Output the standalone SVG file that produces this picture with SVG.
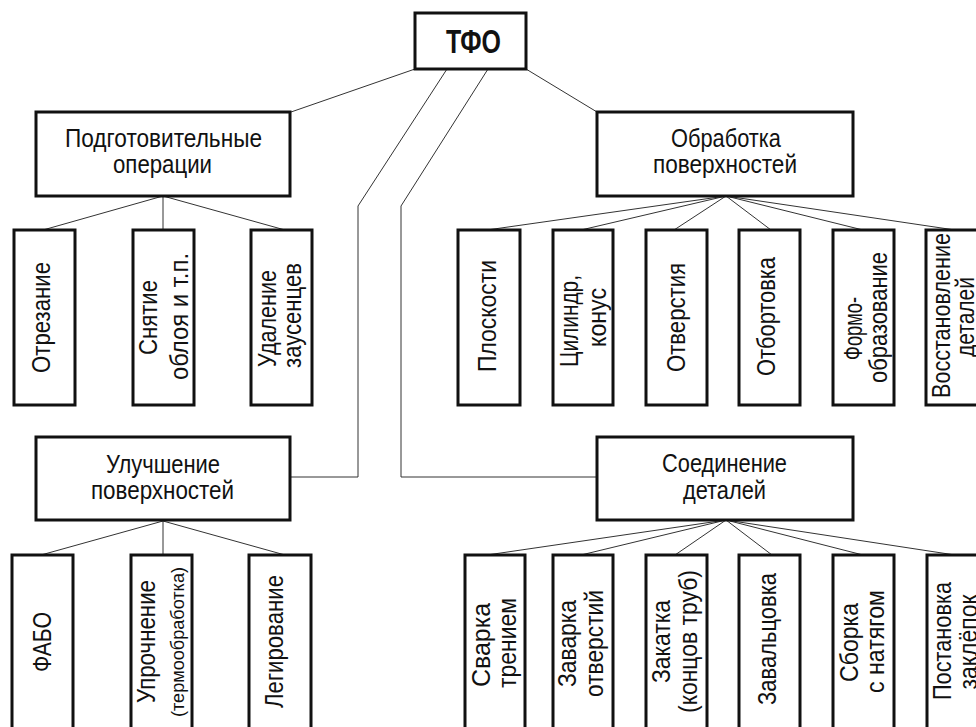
<svg xmlns="http://www.w3.org/2000/svg" width="976" height="727" viewBox="0 0 976 727">
<style>
.box{fill:#fff;stroke:#111;stroke-width:3}
.t{font-family:"Liberation Sans Narrow","Liberation Sans",Arial,sans-serif;font-size:26px;fill:#111;text-anchor:middle}
.s{font-size:18px}
.b{font-weight:bold;font-size:33px}
.c{fill:none;stroke:#333;stroke-width:1}
</style>
<rect width="976" height="727" fill="#fff"/>
<g id="connectors" class="c">
<path d="M415,69 L291,112"/>
<path d="M526,69 L597,112"/>
<path d="M447,69 L358,206 L358,477 L290,477"/>
<path d="M488,69 L401,206 L401,477 L597,477"/>
<path d="M163,196 L43,230 M163,196 L163,230 M163,196 L285,230"/>
<path d="M163,521 L41,555 M163,521 L163,555 M163,521 L285,555"/>
<path d="M726,196 L487,230 M726,196 L581,230 M726,196 L674,230 M726,196 L771,230 M726,196 L863,230 M726,196 L955,230"/>
<path d="M726,520 L487,555 M726,520 L581,555 M726,520 L675,555 M726,520 L772,555 M726,520 L863,555 M726,520 L955,555"/>
</g>
<g id="tfo"><rect class="box" x="415" y="13" width="111" height="56"/><text class="t b" x="473.5" y="53" textLength="55" lengthAdjust="spacingAndGlyphs">ТФО</text></g>
<g id="podg"><rect class="box" x="36" y="112" width="254" height="84"/><text class="t" x="163.5" y="147" textLength="197" lengthAdjust="spacingAndGlyphs">Подготовительные</text><text class="t" x="162.5" y="173" textLength="99" lengthAdjust="spacingAndGlyphs">операции</text></g>
<g id="obrab"><rect class="box" x="597" y="112" width="256" height="84"/><text class="t" x="726" y="147" textLength="110" lengthAdjust="spacingAndGlyphs">Обработка</text><text class="t" x="725" y="173" textLength="144" lengthAdjust="spacingAndGlyphs">поверхностей</text></g>
<g id="uluch"><rect class="box" x="36" y="437" width="254" height="83"/><text class="t" x="163" y="473" textLength="114" lengthAdjust="spacingAndGlyphs">Улучшение</text><text class="t" x="162.5" y="499" textLength="143" lengthAdjust="spacingAndGlyphs">поверхностей</text></g>
<g id="soed"><rect class="box" x="597" y="437" width="256" height="83"/><text class="t" x="724.5" y="472" textLength="125" lengthAdjust="spacingAndGlyphs">Соединение</text><text class="t" x="724.5" y="499" textLength="83" lengthAdjust="spacingAndGlyphs">деталей</text></g>

<g id="otrez"><rect class="box" x="14" y="230" width="61" height="175"/><text class="t" transform="translate(50,317.5) rotate(-90)" textLength="111" lengthAdjust="spacingAndGlyphs">Отрезание</text></g>
<g id="snyatie"><rect class="box" x="133" y="230" width="61" height="175"/><text class="t" transform="translate(156.5,317.5) rotate(-90)" textLength="75" lengthAdjust="spacingAndGlyphs">Снятие</text><text class="t" transform="translate(188,316.5) rotate(-90)" textLength="127" lengthAdjust="spacingAndGlyphs">облоя и т.п.</text></g>
<g id="udal"><rect class="box" x="251" y="230" width="61" height="175"/><text class="t" transform="translate(276,318.5) rotate(-90)" textLength="97" lengthAdjust="spacingAndGlyphs">Удаление</text><text class="t" transform="translate(301,315.5) rotate(-90)" textLength="105" lengthAdjust="spacingAndGlyphs">заусенцев</text></g>

<g id="plosk"><rect class="box" x="458" y="230" width="62" height="175"/><text class="t" transform="translate(496,316) rotate(-90)" textLength="112" lengthAdjust="spacingAndGlyphs">Плоскости</text></g>
<g id="cilindr"><rect class="box" x="553" y="230" width="60" height="175"/><text class="t" transform="translate(578,321) rotate(-90)" textLength="92" lengthAdjust="spacingAndGlyphs">Цилиндр,</text><text class="t" transform="translate(606,317.5) rotate(-90)" textLength="59" lengthAdjust="spacingAndGlyphs">конус</text></g>
<g id="otverst"><rect class="box" x="646" y="230" width="61" height="175"/><text class="t" transform="translate(685,317.5) rotate(-90)" textLength="109" lengthAdjust="spacingAndGlyphs">Отверстия</text></g>
<g id="otbort"><rect class="box" x="739" y="230" width="61" height="175"/><text class="t" transform="translate(775,316.5) rotate(-90)" textLength="119" lengthAdjust="spacingAndGlyphs">Отбортовка</text></g>
<g id="formo"><rect class="box" x="833" y="230" width="61" height="175"/><text class="t" transform="translate(862,328.5) rotate(-90)" textLength="63" lengthAdjust="spacingAndGlyphs">Формо-</text><text class="t" transform="translate(887,317.5) rotate(-90)" textLength="131" lengthAdjust="spacingAndGlyphs">образование</text></g>
<g id="vosst"><rect class="box" x="926" y="230" width="61" height="175"/><text class="t" transform="translate(950,315.5) rotate(-90)" textLength="165" lengthAdjust="spacingAndGlyphs">Восстановление</text><text class="t" transform="translate(974,317) rotate(-90)" textLength="80" lengthAdjust="spacingAndGlyphs">деталей</text></g>

<g id="fabo"><rect class="box" x="12" y="555" width="61" height="180"/><text class="t" transform="translate(51,642) rotate(-90)" textLength="60" lengthAdjust="spacingAndGlyphs">ФАБО</text></g>
<g id="uproch"><rect class="box" x="131" y="555" width="61" height="180"/><text class="t" transform="translate(155,641.5) rotate(-90)" textLength="123" lengthAdjust="spacingAndGlyphs">Упрочнение</text><text class="t s" transform="translate(184,642) rotate(-90)" textLength="150" lengthAdjust="spacingAndGlyphs">(термообработка)</text></g>
<g id="legir"><rect class="box" x="249" y="555" width="62" height="180"/><text class="t" transform="translate(283,641.5) rotate(-90)" textLength="133" lengthAdjust="spacingAndGlyphs">Легирование</text></g>

<g id="svarka"><rect class="box" x="465" y="555" width="60" height="180"/><text class="t" transform="translate(490,645) rotate(-90)" textLength="84" lengthAdjust="spacingAndGlyphs">Сварка</text><text class="t" transform="translate(516,643) rotate(-90)" textLength="90" lengthAdjust="spacingAndGlyphs">трением</text></g>
<g id="zavarka"><rect class="box" x="553" y="555" width="60" height="180"/><text class="t" transform="translate(576,643.5) rotate(-90)" textLength="87" lengthAdjust="spacingAndGlyphs">Заварка</text><text class="t" transform="translate(603,643.5) rotate(-90)" textLength="107" lengthAdjust="spacingAndGlyphs">отверстий</text></g>
<g id="zakatka"><rect class="box" x="646" y="555" width="61" height="180"/><text class="t" transform="translate(670,641.5) rotate(-90)" textLength="83" lengthAdjust="spacingAndGlyphs">Закатка</text><text class="t" transform="translate(697,641.5) rotate(-90)" textLength="143" lengthAdjust="spacingAndGlyphs">(концов труб)</text></g>
<g id="zavalc"><rect class="box" x="739" y="555" width="61" height="180"/><text class="t" transform="translate(776,639) rotate(-90)" textLength="132" lengthAdjust="spacingAndGlyphs">Завальцовка</text></g>
<g id="sborka"><rect class="box" x="833" y="555" width="61" height="180"/><text class="t" transform="translate(858,642.5) rotate(-90)" textLength="79" lengthAdjust="spacingAndGlyphs">Сборка</text><text class="t" transform="translate(884,641.5) rotate(-90)" textLength="103" lengthAdjust="spacingAndGlyphs">с натягом</text></g>
<g id="postan"><rect class="box" x="927" y="555" width="61" height="180"/><text class="t" transform="translate(951,641) rotate(-90)" textLength="118" lengthAdjust="spacingAndGlyphs">Постановка</text><text class="t" transform="translate(977,642) rotate(-90)" textLength="95" lengthAdjust="spacingAndGlyphs">заклёпок</text></g>
</svg>
